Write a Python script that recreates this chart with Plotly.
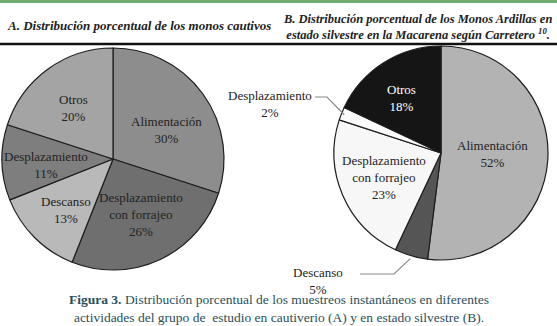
import math
import plotly.graph_objects as go

categories_a = ["Alimentación", "Desplazamiento<br>con forrajeo", "Descanso", "Desplazamiento", "Otros"]
values_a = [30, 26, 13, 11, 20]
colors_a = ["#8d8d8d", "#6f6f6f", "#b9b9b9", "#7e7e7e", "#a4a4a4"]

categories_b = ["Alimentación", "Descanso", "Desplazamiento<br>con forrajeo", "Desplazamiento", "Otros"]
values_b = [52, 5, 23, 2, 18]
colors_b = ["#b3b3b3", "#555555", "#f7f7f7", "#fbfbfb", "#151515"]
textcol_b = ["#222222", "#222222", "#222222", "#222222", "#ffffff"]

# small pixel nudges for label placement (style only)
nudge_a = [(0, 10), (0, -5), (0, 4), (0, 4), (0, 3)]
nudge_b = [(-10, -3), (0, 0), (0, 0), (0, 0), (-6, -3)]

W, H = 557, 326
SERIF = "Liberation Serif"

fig = go.Figure()

def dom(cx, cy, r):
    return dict(x=[(cx - r) / W, (cx + r) / W], y=[1 - (cy + r) / H, 1 - (cy - r) / H])

fig.add_trace(go.Pie(
    labels=categories_a, values=values_a, sort=False, direction="clockwise", rotation=0,
    marker=dict(colors=colors_a, line=dict(color="#1e1e1e", width=1.2)),
    textinfo="none", domain=dom(113, 159, 111), showlegend=False, hoverinfo="label+percent",
))
fig.add_trace(go.Pie(
    labels=categories_b, values=values_b, sort=False, direction="clockwise", rotation=0,
    marker=dict(colors=colors_b, line=dict(color="#1e1e1e", width=1.2)),
    textinfo="none", domain=dom(441, 153, 107), showlegend=False, hoverinfo="label+percent",
))

shapes = []
shapes.append(dict(type="rect", xref="paper", yref="paper", x0=0, x1=1, y0=1 - 3 / H, y1=1,
                   fillcolor="#72ad72", line=dict(width=0)))
shapes.append(dict(type="line", xref="paper", yref="paper", x0=0, x1=1, y0=1 - 44 / H, y1=1 - 44 / H,
                   line=dict(color="#111111", width=2.5)))

def px(x, y):
    return x / W, 1 - y / H

def slice_point(values, idx, cx, cy, r):
    tot = sum(values)
    before = sum(values[:idx])
    mid = (before + values[idx] / 2) / tot * 2 * math.pi
    return cx + r * math.sin(mid), cy - r * math.cos(mid)

ann = []
def add_text(x, y, text, size=13, color="#222222", xanchor="center"):
    ax, ay = px(x, y)
    ann.append(dict(x=ax, y=ay, xref="paper", yref="paper", text=text, showarrow=False,
                    xanchor=xanchor, yanchor="middle", font=dict(family=SERIF, size=size, color=color)))

# inside labels, placed on each slice's bisector
for i, (lab, v) in enumerate(zip(categories_a, values_a)):
    x, y = slice_point(values_a, i, 113, 159, 111 * 0.6)
    add_text(x + nudge_a[i][0], y + nudge_a[i][1], "{}<br>{}%".format(lab, v))

for i, (lab, v) in enumerate(zip(categories_b, values_b)):
    if v < 10:
        continue
    x, y = slice_point(values_b, i, 441, 153, 107 * 0.58)
    add_text(x + nudge_b[i][0], y + nudge_b[i][1], "{}<br>{}%".format(lab, v), color=textcol_b[i])

# outside labels with leader lines
ex, ey = slice_point(values_b, 3, 441, 153, 104)
p = [px(315, 97), px(327, 97), px(ex, ey)]
shapes.append(dict(type="path", xref="paper", yref="paper",
                   path="M {} {} L {} {} L {} {}".format(p[0][0], p[0][1], p[1][0], p[1][1], p[2][0], p[2][1]),
                   line=dict(color="#8a8a8a", width=1.2)))
add_text(270, 104, "{}<br>{}%".format(categories_b[3], values_b[3]))

ex, ey = slice_point(values_b, 1, 441, 153, 110)
p = [px(360, 274), px(394, 274), px(ex, ey)]
shapes.append(dict(type="path", xref="paper", yref="paper",
                   path="M {} {} L {} {} L {} {}".format(p[0][0], p[0][1], p[1][0], p[1][1], p[2][0], p[2][1]),
                   line=dict(color="#8a8a8a", width=1.2)))
add_text(318, 281, "{}<br>{}%".format(categories_b[1], values_b[1]))

# titles
add_text(5, 25, "<b><i>A. Distribución porcentual de los monos cautivos</i></b>", size=13, xanchor="left")
add_text(417, 27, "<b><i>B. Distribución porcentual de los Monos Ardillas en<br>estado silvestre en la Macarena según Carretero <sup>10</sup>.</i></b>", size=12.5)

# caption
add_text(279, 308, "<b>Figura 3.</b> Distribución porcentual de los muestreos instantáneos en diferentes<br>actividades del grupo de  estudio en cautiverio (A) y en estado silvestre (B).",
         size=13.5, color="#2a4f5c")

fig.update_layout(width=W, height=H, margin=dict(l=0, r=0, t=0, b=0),
                  paper_bgcolor="#ffffff", plot_bgcolor="#ffffff",
                  shapes=shapes, annotations=ann)

fig.write_html("out.html", config={"displayModeBar": False},
               post_script="document.body.style.margin='0';")
